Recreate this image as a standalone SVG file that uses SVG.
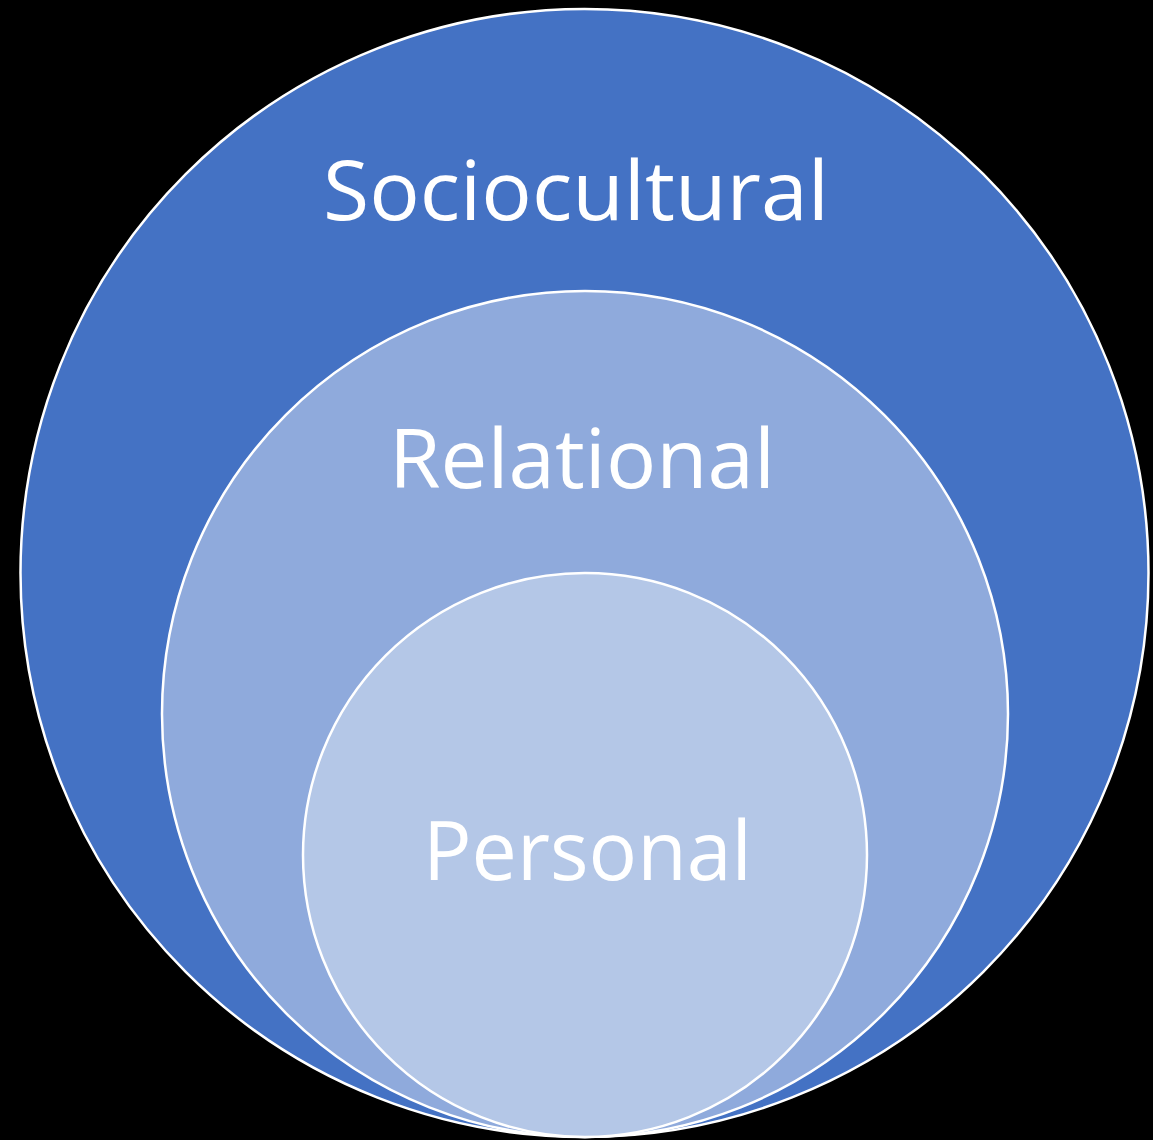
<svg xmlns="http://www.w3.org/2000/svg" width="1153" height="1140" viewBox="0 0 1153 1140">
<style>
.c{stroke:#ffffff;stroke-width:2.5}
.t{font-family:"Open Sans","Liberation Sans",sans-serif;font-size:82px;fill:#ffffff}
</style>
<rect width="1153" height="1140" fill="#000000"/>
<g id="sociocultural">
<circle class="c" cx="584.5" cy="573" r="564" fill="#4472C4"/>
<text class="t" x="323" y="220" textLength="506" lengthAdjust="spacingAndGlyphs">Sociocultural</text>
</g>
<g id="relational">
<circle class="c" cx="585" cy="714" r="423" fill="#8FAADC"/>
<text class="t" x="389" y="488" textLength="386" lengthAdjust="spacingAndGlyphs">Relational</text>
</g>
<g id="personal">
<circle class="c" cx="585" cy="855" r="282" fill="#B4C7E7"/>
<text class="t" x="423" y="880" textLength="329" lengthAdjust="spacingAndGlyphs">Personal</text>
</g>
<g id="connectors"></g>
</svg>
